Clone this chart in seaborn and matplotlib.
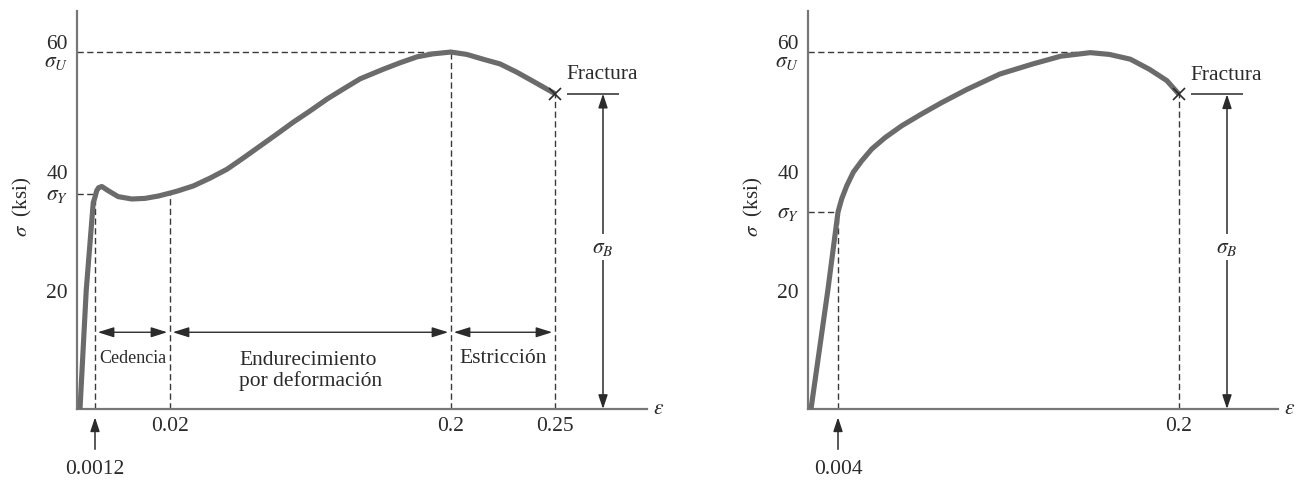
import numpy as np
import matplotlib
matplotlib.use('Agg')
import matplotlib.pyplot as plt
import matplotlib.transforms as mtransforms
import seaborn as sns

# Values (strain, stress in ksi)
# Left: material with a marked yield point
strain_left = [0, 0.0005, 0.00106, 0.0012, 0.00163, 0.0021, 0.0029, 0.0045, 0.007, 0.0104,
               0.0137, 0.0171, 0.02, 0.0243, 0.035, 0.0456, 0.0565, 0.067, 0.0777, 0.0884,
               0.0989, 0.1097, 0.1206, 0.1311, 0.1418, 0.1565, 0.1674, 0.1783, 0.1886, 0.2,
               0.2076, 0.2154, 0.2236, 0.2317, 0.2394, 0.25]
stress_left = [0, 20, 34.7, 35.6, 36.7, 37.2, 37.4, 36.7, 35.7, 35.3,
               35.4, 35.8, 36.3, 36.6, 37.5, 38.8, 40.3, 42.2, 44.2, 46.2,
               48.2, 50.1, 52.1, 53.8, 55.5, 57.1, 58.2, 59.2, 59.7, 60.0,
               59.6, 58.8, 58.0, 56.6, 55.1, 53.0]

# Right: material without a marked yield point
strain_right = [0, 0.0025, 0.004, 0.0061, 0.009, 0.0128, 0.0176, 0.0234, 0.031, 0.0406,
                0.0521, 0.0636, 0.078, 0.097, 0.116, 0.132, 0.149, 0.160, 0.172, 0.183,
                0.193, 0.2]
stress_right = [0, 20, 33.1, 35.3, 37.5, 39.8, 41.7, 43.7, 45.6, 47.6,
                49.6, 51.5, 53.7, 56.3, 58.0, 59.3, 59.9, 59.6, 58.8, 57.1,
                55.2, 52.9]

# characteristic points
yield_left = (0.0012, 36.1)
hardening_left = (0.02, 36.3)
ultimate_left = (0.2, 60)
fracture_left = (0.25, 53.0)

yield_right = (0.004, 33.1)
ultimate_right = (0.149, 60)
fracture_right = (0.2, 52.9)

ytick_values = [20, 40]
ytick_labels = ['20', '40']
xtick_left = [0.02, 0.2, 0.25]
xtick_left_labels = ['0.02', '0.2', '0.25']
xtick_right = [0.2]
xtick_right_labels = ['0.2']
region_labels = ['Cedencia', 'Endurecimiento\npor deformación', 'Estricción']

# the strain axis is schematic (not to scale): piecewise map strain -> pixels
left_anchor_strain = [-0.001, 0, 0.0012, 0.02, 0.2, 0.25, 0.35]
left_anchor_px = [-12.5, 0, 15, 90, 371, 475, 683]
right_anchor_strain = [-0.001, 0, 0.004, 0.2, 0.4]
right_anchor_px = [-6.75, 0, 27, 368, 716]

sns.set_style('white')
plt.rcParams['font.family'] = ['Liberation Serif', 'DejaVu Serif']
plt.rcParams['mathtext.fontset'] = 'stix'

CURVE = '#6b6b6b'
AXIS = '#777777'
INK = '#2b2b2b'
DASH = '#3a3a3a'
FS = 15.5
Y_TOP = 66.9

W, H = 1304, 481
fig = plt.figure(figsize=(W / 100, H / 100), dpi=100)
ax1 = fig.add_axes([77 / W, 71 / H, 570 / W, 398 / H])
ax2 = fig.add_axes([808 / W, 71 / H, 470 / W, 398 / H])


def setup_panel(ax, strain, stress, a_strain, a_px, width_px, xticks, xlabels):
    fwd = lambda x: np.interp(x, a_strain, a_px)
    inv = lambda p: np.interp(p, a_px, a_strain)
    ax.set_xscale('function', functions=(fwd, inv))
    ax.set_xlim(float(inv(-3)), float(inv(width_px - 3)))
    ax.set_ylim(0, Y_TOP)

    sns.lineplot(x=strain, y=stress, ax=ax, color=CURVE, lw=3.7, sort=False,
                 estimator=None, clip_on=False, solid_capstyle='butt',
                 solid_joinstyle='round', zorder=3)

    for side in ['top', 'right']:
        ax.spines[side].set_visible(False)
    for side in ['left', 'bottom']:
        ax.spines[side].set_color(AXIS)
        ax.spines[side].set_linewidth(1.6)

    ax.set_yticks(ytick_values, ytick_labels)
    ax.tick_params(axis='y', direction='in', length=18, width=1.2, color=AXIS,
                   labelsize=FS, labelcolor=INK, pad=6.5)
    ax.set_xticks(xticks, xlabels)
    ax.tick_params(axis='x', length=0, labelsize=FS, labelcolor=INK, pad=5)
    ax.minorticks_off()
    ax.set_xlabel('')
    ax.set_ylabel('')

    ytrans = mtransforms.blended_transform_factory(ax.transAxes, ax.transData)
    ax.annotate(r'$\epsilon$', xy=(1, 0), xycoords='axes fraction', xytext=(6, 0),
                textcoords='offset pixels', ha='left', va='center', fontsize=FS, color=INK)
    ax.annotate(r'$\sigma$  (ksi)', xy=(0, 0.5), xycoords='axes fraction', xytext=(-55, 4),
                textcoords='offset pixels', ha='center', va='center', rotation=90,
                fontsize=15, color=INK)
    return fwd, inv, ytrans


def ylab(ax, ytrans, text, value, dy):
    ax.annotate(text, xy=(0, value), xycoords=ytrans, xytext=(-9, dy),
                textcoords='offset pixels', ha='right', va='center', fontsize=FS, color=INK)


def dashed(ax, kind, at, lo, hi):
    f = ax.hlines if kind == 'h' else ax.vlines
    f(at, lo, hi, colors=DASH, lw=1.0, linestyles=(0, (4.5, 2.5)), zorder=2)


def fracture_marks(ax, fwd, inv, frac):
    fx, fy = frac
    ax.plot([fx], [fy], marker='x', ms=9, mew=1.2, color=INK, zorder=4)
    ax.annotate('Fractura', xy=frac, xytext=(11, 20), textcoords='offset pixels',
                ha='left', va='center', fontsize=FS, color=INK)
    px = fwd(fx)
    ax.hlines(fy, float(inv(px + 12)), float(inv(px + 64)), colors=INK, lw=1.1)
    xb = float(inv(px + 48))
    ax.annotate('', xy=(xb, 0), xytext=(xb, fy),
                arrowprops=dict(arrowstyle='<|-|>,head_length=0.6,head_width=0.2',
                                mutation_scale=14, color=INK, lw=1.1,
                                shrinkA=0, shrinkB=0))
    ax.text(xb, 27.2, r'$\sigma_B$', ha='center', va='center', fontsize=FS, color=INK,
            bbox=dict(boxstyle='square,pad=0.15', fc='white', ec='none'))


def strain_arrow(ax, x, label):
    ax.annotate(label, xy=(x, 0), xytext=(0, -60), textcoords='offset pixels',
                ha='center', va='center', fontsize=FS, color=INK, annotation_clip=False,
                arrowprops=dict(arrowstyle='-|>,head_length=0.6,head_width=0.2',
                                mutation_scale=14, color=INK, lw=1.1,
                                shrinkA=5, shrinkB=6))


# ---------------- left panel ----------------
fwd1, inv1, yt1 = setup_panel(ax1, strain_left, stress_left, left_anchor_strain,
                              left_anchor_px, 570, xtick_left, xtick_left_labels)
x0 = ax1.get_xlim()[0]
dashed(ax1, 'h', ultimate_left[1], x0, ultimate_left[0])
dashed(ax1, 'h', yield_left[1], x0, yield_left[0])
dashed(ax1, 'v', yield_left[0], 0, yield_left[1])
dashed(ax1, 'v', hardening_left[0], 0, hardening_left[1])
dashed(ax1, 'v', ultimate_left[0], 0, ultimate_left[1])
dashed(ax1, 'v', fracture_left[0], 0, fracture_left[1])

ylab(ax1, yt1, '60', 60, 9)
ylab(ax1, yt1, r'$\sigma_U$', 60, -9)
ylab(ax1, yt1, r'$\sigma_Y$', yield_left[1], 0)

fracture_marks(ax1, fwd1, inv1, fracture_left)
strain_arrow(ax1, yield_left[0], '0.0012')

bounds = [yield_left[0], hardening_left[0], ultimate_left[0], fracture_left[0]]
for i, lab in enumerate(region_labels):
    a, b = bounds[i], bounds[i + 1]
    ax1.annotate('', xy=(b, 12.9), xytext=(a, 12.9),
                 arrowprops=dict(arrowstyle='<|-|>,head_length=0.7,head_width=0.22',
                                 mutation_scale=14, color=INK, lw=1.0,
                                 shrinkA=2, shrinkB=2))
    xm = float(inv1((fwd1(a) + fwd1(b)) / 2))
    ax1.text(xm, 8.7 if i != 1 else 6.6, lab, ha='center', va='center',
             multialignment='left', linespacing=1.1,
             fontsize=13 if i == 0 else FS, color=INK)

# ---------------- right panel ----------------
fwd2, inv2, yt2 = setup_panel(ax2, strain_right, stress_right, right_anchor_strain,
                              right_anchor_px, 470, xtick_right, xtick_right_labels)
x0 = ax2.get_xlim()[0]
dashed(ax2, 'h', ultimate_right[1], x0, ultimate_right[0])
dashed(ax2, 'h', yield_right[1], x0, yield_right[0])
dashed(ax2, 'v', yield_right[0], 0, yield_right[1])
dashed(ax2, 'v', fracture_right[0], 0, fracture_right[1])

ylab(ax2, yt2, '60', 60, 9)
ylab(ax2, yt2, r'$\sigma_U$', 60, -9)
ylab(ax2, yt2, r'$\sigma_Y$', yield_right[1], 0)

fracture_marks(ax2, fwd2, inv2, fracture_right)
strain_arrow(ax2, yield_right[0], '0.004')

fig.savefig('out.png', dpi=100, facecolor='white')
